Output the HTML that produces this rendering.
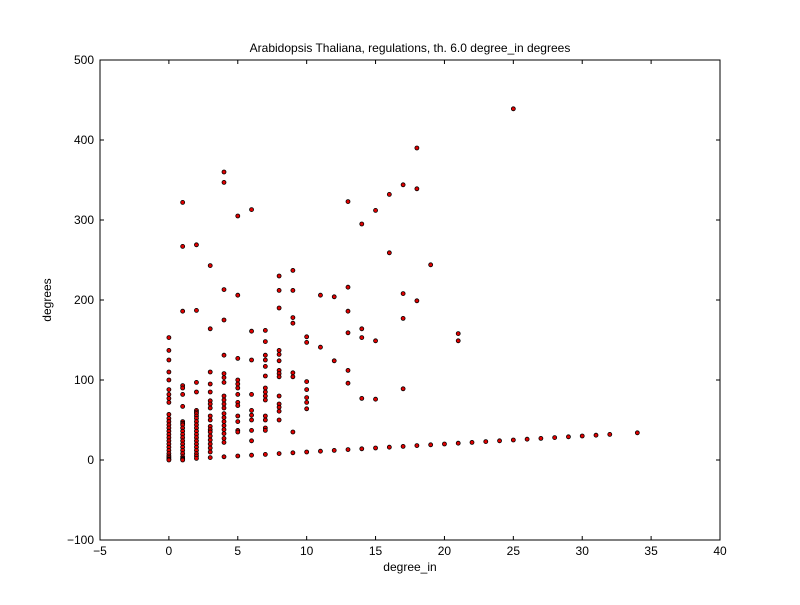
<!DOCTYPE html>
<html><head><meta charset="utf-8"><style>
body{margin:0;background:#fff;font-family:"Liberation Sans","DejaVu Sans",sans-serif}
svg text{font-family:"Liberation Sans","DejaVu Sans",sans-serif}
</style></head><body>
<svg id="chart" width="800" height="600">
<rect width="800" height="600" fill="#fff"/>
<text x="410" y="52" font-size="12" text-anchor="middle">Arabidopsis Thaliana, regulations, th. 6.0 degree_in degrees</text>
<g id="ticks"></g>
<g id="pts"></g>
<rect x="100" y="60" width="620" height="480" fill="none" stroke="#000" stroke-width="1"/>
<text x="410" y="571" font-size="12" text-anchor="middle">degree_in</text>
<text x="51" y="300" font-size="12" text-anchor="middle" transform="rotate(-90 51 300)">degrees</text>
</svg>
<script>
const xTicks=[-5,0,5,10,15,20,25,30,35,40];
const yTicks=[-100,0,100,200,300,400,500];
const xCats=[0,1,2,3,4,5,6,7,8,9,10,11,12,13,14,15,16,17,18,19,20,21,22,23,24,25,26,27,28,29,30,31,32,34];
const degreesByX=[
[153,137,125,110,100,88,82,77,72,57,52,48,44,40,36,32,28,24,20,16,12,8,5,3,1,0],
[322,267,186,93,90,82,67,48,46,44,40,36,32,28,24,20,16,12,8,4,2,1,0],
[269,187,97,85,62,60,58,55,52,48,44,40,36,32,28,24,20,16,12,8,5,2],
[243,164,110,95,85,74,70,65,55,50,42,38,35,30,25,20,15,10,3],
[360,347,213,175,131,108,103,97,80,75,70,65,58,53,48,43,38,33,27,22,4],
[305,206,127,100,95,90,82,72,68,55,48,37,35,5],
[313,161,125,82,62,56,50,37,24,6],
[162,148,131,125,117,105,90,85,80,75,55,50,40,37,7],
[230,212,190,137,132,124,112,108,104,80,70,66,61,50,8],
[237,212,178,171,109,104,35,9],
[154,147,98,88,78,72,64,10],
[206,141,11],[204,124,12],[323,216,186,159,112,96,13],[295,164,153,77,14],
[312,149,76,15],[332,259,16],[344,208,177,89,17],[390,339,199,18],[244,19],[20],
[158,149,21],[22],[23],[24],[439,25],[26],[27],[28],[29],[30],[31],[32],[34]
];
const NS="http://www.w3.org/2000/svg";
const sx=v=>100+(v+5)/45*620;
const sy=v=>540-(v+100)/600*480;
const tg=document.getElementById('ticks'),pg=document.getElementById('pts');
function mk(t,a,p){const e=document.createElementNS(NS,t);for(const k in a)e.setAttribute(k,a[k]);p.appendChild(e);return e;}
xTicks.forEach(v=>{const x=sx(v);
const l1=mk('line',{x1:x,x2:x,y1:540,y2:536,stroke:'#000'},tg);


const l2=mk('line',{x1:x,x2:x,y1:60,y2:64,stroke:'#000'},tg);


const t=mk('text',{x:x,y:555,'font-size':12,'text-anchor':'middle'},tg);t.textContent=v<0?'\u2212'+(-v):v;

});
yTicks.forEach(v=>{const y=sy(v);
const l1=mk('line',{x1:100,x2:104,y1:y,y2:y,stroke:'#000'},tg);


const l2=mk('line',{x1:716,x2:720,y1:y,y2:y,stroke:'#000'},tg);


const t=mk('text',{x:94,y:y+4,'font-size':12,'text-anchor':'end'},tg);t.textContent=v<0?'\u2212'+(-v):v;

});
xCats.forEach((xv,i)=>{degreesByX[i].forEach(yv=>{
const c=mk('circle',{cx:sx(xv),cy:sy(yv),r:2.0,fill:'#e00000',stroke:'#000','stroke-width':0.8},pg);

});});
</script>
</body></html>
